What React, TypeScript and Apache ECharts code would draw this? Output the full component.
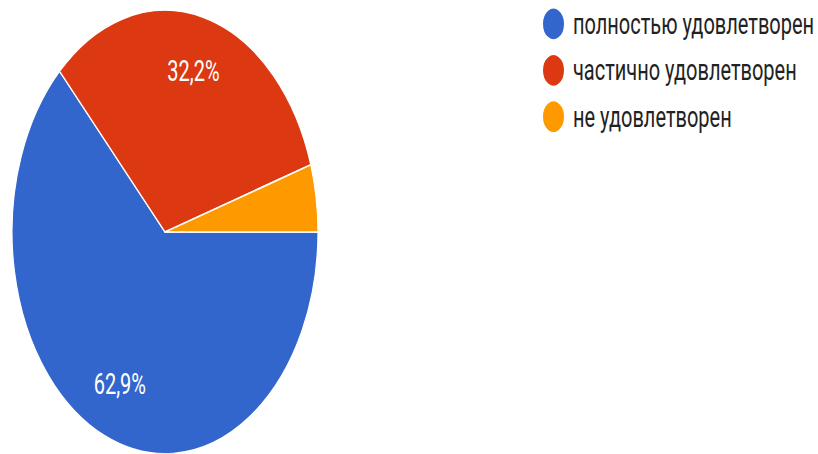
import React, { useEffect, useRef } from "react";
import * as echarts from "echarts";

const categories = ["полностью удовлетворен", "частично удовлетворен", "не удовлетворен"];
const values = [62.9, 32.2, 4.9];
const colors = ["#3366cc", "#dc3912", "#ff9900"];

const SCALE_Y = 1.45;
const W = 818;
const H = 454;

export default function App() {
  const ref = useRef<HTMLDivElement>(null);
  useEffect(() => {
    if (!ref.current) return;
    const chart = echarts.init(ref.current, null, { renderer: "svg" });
    const data = categories.map((name, i) => ({
      name,
      value: values[i],
      itemStyle: { color: colors[i] },
    }));
    chart.setOption({
      animation: false,
      backgroundColor: "#ffffff",
      legend: {
        orient: "vertical",
        left: 541,
        top: 4,
        padding: 0,
        icon: "circle",
        itemWidth: 23,
        itemHeight: 23,
        itemGap: 7,
        data: categories.map((name, i) => ({ name, itemStyle: { color: colors[i] } })),
        textStyle: {
          fontFamily: "Roboto",
          fontSize: 20,
          lineHeight: 20,
          color: "#222222",
          padding: [0, 0, 0, 3],
        },
        selectedMode: false,
      },
      series: [
        {
          type: "pie",
          center: [165, 160],
          radius: 153,
          startAngle: 0,
          clockwise: true,
          silent: true,
          label: { show: false },
          labelLine: { show: false },
          itemStyle: { borderColor: "#ffffff", borderWidth: 1.2 },
          data,
        },
        {
          type: "pie",
          center: [165, 160],
          radius: [70, 153],
          startAngle: 0,
          clockwise: true,
          silent: true,
          legendHoverLink: false,
          itemStyle: { color: "transparent", borderWidth: 0 },
          label: {
            show: true,
            position: "inside",
            fontFamily: "Roboto",
            fontSize: 20,
            color: "#ffffff",
            formatter: (p: any) =>
              p.value >= 10 ? p.value.toFixed(1).replace(".", ",") + "%" : "",
          },
          labelLine: { show: false },
          data: categories.map((name, i) => ({
            name,
            value: values[i],
            itemStyle: { color: "transparent" },
          })),
        },
      ],
    });
    return () => chart.dispose();
  }, []);
  return (
    <div
      style={{
        position: "fixed",
        left: 0,
        top: 0,
        width: W,
        height: H,
        overflow: "hidden",
        background: "#ffffff",
      }}
    >
      <div
        ref={ref}
        style={{
          width: W,
          height: H / SCALE_Y,
          transform: `scaleY(${SCALE_Y})`,
          transformOrigin: "0 0",
        }}
      />
    </div>
  );
}
